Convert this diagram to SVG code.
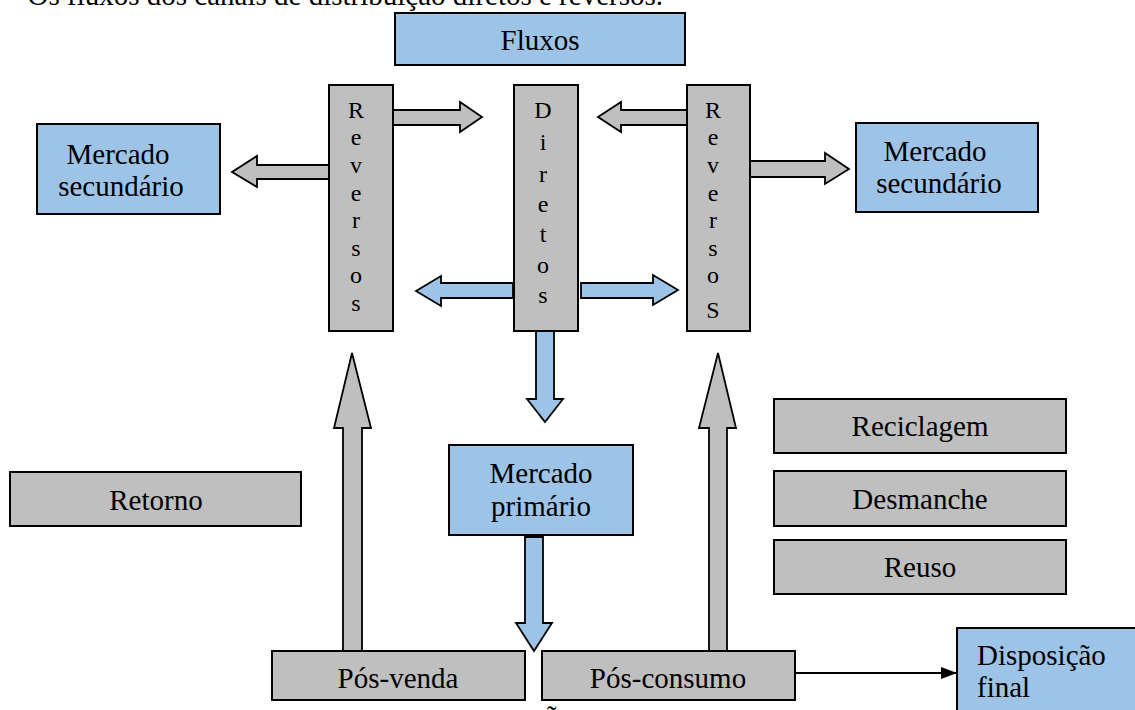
<svg xmlns="http://www.w3.org/2000/svg" width="1135" height="710" viewBox="0 0 1135 710" font-family="'Liberation Serif', Tinos, 'Times New Roman', Times, 'DejaVu Serif', serif">
<style>
.blue{fill:#9DC3E6;stroke:#000;stroke-width:2}
.gray{fill:#BFBFBF;stroke:#000;stroke-width:2}
.ab{fill:#9DC3E6;stroke:#000;stroke-width:1.8;stroke-linejoin:miter}
.ag{fill:#BFBFBF;stroke:#000;stroke-width:1.8;stroke-linejoin:miter}
text{font-family:'Liberation Serif', Tinos, 'Times New Roman', Times, 'DejaVu Serif', serif;fill:#000;font-size:29px}
.v{font-size:24px;text-anchor:middle}
.m{text-anchor:middle}
</style>
<defs>
<marker id="tri" viewBox="0 0 16 12" refX="16" refY="6" markerWidth="16" markerHeight="12" markerUnits="userSpaceOnUse" orient="auto">
<path d="M0,0 L16,6 L0,12 Z" fill="#000"/>
</marker>
</defs>
<rect width="1135" height="710" fill="#fff"/>
<text x="663" y="5" text-anchor="end" font-size="28">Os fluxos dos canais de distribuição diretos e reversos.</text>
<g id="connectors">
<polygon class="ag" points="329,165 257,165 257,156 232,172 257,187 257,179 329,179"/>
<polygon class="ag" points="393,110 460,110 460,102 482,117 460,132 460,125 393,125"/>
<polygon class="ag" points="687,110 621,110 621,102 598,117 621,132 621,125 687,125"/>
<polygon class="ag" points="750,161 825,161 825,153 849,169 825,184 825,177 750,177"/>
<polygon class="ab" points="513,283 441,283 441,276 416,291 441,306 441,298 513,298"/>
<polygon class="ab" points="581,283 653,283 653,275 678,290 653,305 653,298 581,298"/>
<polygon class="ab" points="536,331 554,331 554,399 563,399 545,422 527,399 536,399"/>
<polygon class="ab" points="525,537 543,537 543,623 552,623 534,651 516,623 525,623"/>
<polygon class="ag" points="343,651 343,428 334,428 352,353 371,428 362,428 362,651"/>
<polygon class="ag" points="709,651 709,428 699,428 718,353 736,428 727,428 727,651"/>
<line x1="795" y1="673" x2="957" y2="673" stroke="#000" stroke-width="2" marker-end="url(#tri)"/>
</g>
<g id="fluxos">
<rect class="blue" x="395" y="13" width="290" height="52"/>
<text class="m" x="540" y="50" font-size="30">Fluxos</text>
</g>
<g id="reversos-esq">
<rect class="gray" x="329" y="85" width="64" height="246"/>
<text class="v" x="356" y="118">R</text>
<text class="v" x="356" y="145">e</text>
<text class="v" x="356" y="173">v</text>
<text class="v" x="356" y="201">e</text>
<text class="v" x="356" y="228">r</text>
<text class="v" x="356" y="256">s</text>
<text class="v" x="356" y="283">o</text>
<text class="v" x="356" y="311">s</text>
</g>
<g id="diretos">
<rect class="gray" x="514" y="85" width="64" height="246"/>
<text class="v" x="543" y="118">D</text>
<text class="v" x="543" y="150">i</text>
<text class="v" x="543" y="182">r</text>
<text class="v" x="543" y="212">e</text>
<text class="v" x="543" y="242">t</text>
<text class="v" x="543" y="273">o</text>
<text class="v" x="543" y="303">s</text>
</g>
<g id="reversos-dir">
<rect class="gray" x="687" y="85" width="63" height="246"/>
<text class="v" x="713" y="118">R</text>
<text class="v" x="713" y="145">e</text>
<text class="v" x="713" y="173">v</text>
<text class="v" x="713" y="201">e</text>
<text class="v" x="713" y="228">r</text>
<text class="v" x="713" y="256">s</text>
<text class="v" x="713" y="283">o</text>
<text class="v" x="713" y="318">S</text>
</g>
<g id="mercado-sec-esq">
<rect class="blue" x="37" y="124" width="183" height="90"/>
<text class="m" x="118" y="164">Mercado</text>
<text class="m" x="121" y="196">secundário</text>
</g>
<g id="mercado-sec-dir">
<rect class="blue" x="856" y="123" width="182" height="89"/>
<text class="m" x="935" y="161">Mercado</text>
<text class="m" x="939" y="193">secundário</text>
</g>
<g id="mercado-primario">
<rect class="blue" x="449" y="445" width="184" height="90"/>
<text class="m" x="541" y="483">Mercado</text>
<text class="m" x="541" y="516">primário</text>
</g>
<g id="retorno">
<rect class="gray" x="10" y="472" width="291" height="54"/>
<text class="m" x="156" y="510">Retorno</text>
</g>
<g id="reciclagem">
<rect class="gray" x="774" y="399" width="292" height="54"/>
<text class="m" x="920" y="436">Reciclagem</text>
</g>
<g id="desmanche">
<rect class="gray" x="774" y="471" width="292" height="55"/>
<text class="m" x="920" y="509">Desmanche</text>
</g>
<g id="reuso">
<rect class="gray" x="774" y="540" width="292" height="54"/>
<text class="m" x="920" y="577">Reuso</text>
</g>
<g id="pos-venda">
<rect class="gray" x="272" y="651" width="253" height="49"/>
<text class="m" x="398" y="688">Pós-venda</text>
</g>
<g id="pos-consumo">
<rect class="gray" x="542" y="651" width="253" height="49"/>
<text class="m" x="668" y="688">Pós-consumo</text>
</g>
<g id="disposicao">
<rect class="blue" x="957" y="628" width="190" height="100"/>
<text x="977" y="665">Disposição</text>
<text x="977" y="697">final</text>
</g>
<text class="m" x="552" y="731">Ã</text>
</svg>
